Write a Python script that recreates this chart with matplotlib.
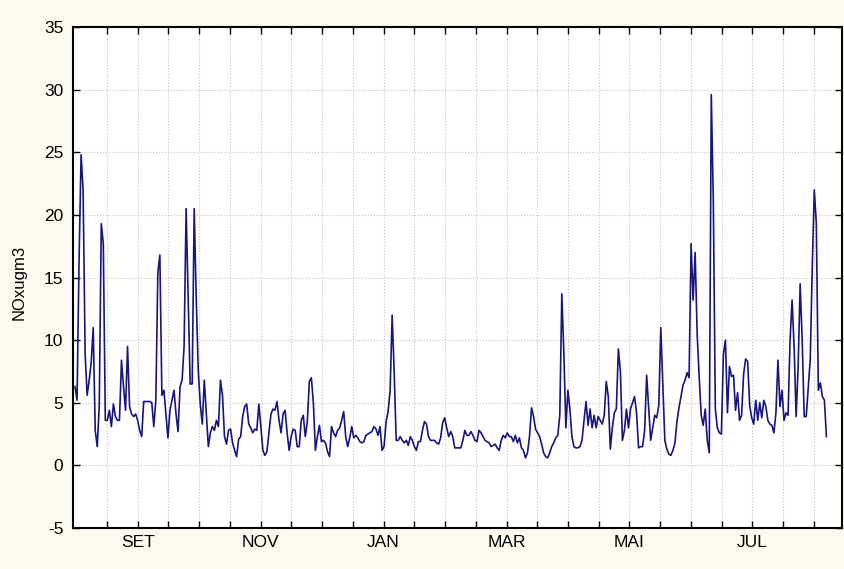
import numpy as np
import matplotlib.pyplot as plt

# daily NOx (ug/m3), day 0 = 1 August
nox_aug_nov = [
    6.3, 5.2, 16.4, 24.8, 22.0, 8.9, 5.6, 6.8, 8.2, 11.0,
    2.8, 1.5, 4.8, 19.3, 17.7, 3.6, 3.6, 4.4, 3.1, 4.9,
    3.9, 3.6, 3.6, 8.4, 6.3, 4.4, 9.5, 4.7, 4.1, 3.9,
    4.1, 3.6, 2.8, 2.3, 5.1, 5.1, 5.1, 5.1, 5.0, 3.1,
    5.2, 15.4, 16.8, 5.6, 6.0, 4.1, 2.2, 4.4, 5.2, 6.0,
    4.1, 2.7, 6.3, 6.8, 9.5, 20.5, 13.4, 6.5, 6.5, 20.5,
    13.4, 7.6, 4.9, 3.3, 6.8, 4.1, 1.5, 2.6, 3.1, 2.8,
    3.6, 3.1, 6.8, 5.6, 2.3, 1.7, 2.8, 2.9, 1.8, 1.2,
    0.7, 2.1, 2.3, 3.9, 4.7, 4.9, 3.3, 3.0, 2.6, 2.9,
    2.8, 4.9, 3.1, 1.2, 0.8, 1.1, 2.6, 4.1, 4.5, 4.4,
    5.1, 3.6, 2.6, 4.1, 4.4, 2.6, 1.2, 2.3, 2.9, 2.8,
    1.5, 1.5,
]
nox_nov_apr = [
    3.6, 4.0, 2.3, 3.5, 6.7, 7.0, 5.0, 1.2, 2.3, 3.2,
    1.9, 2.0, 1.8, 1.1, 0.7, 3.1, 2.6, 2.3, 2.8, 3.0,
    3.6, 4.3, 2.3, 1.5, 2.2, 3.1, 2.2, 2.4, 2.2, 1.9,
    1.8, 1.9, 2.4, 2.5, 2.6, 2.7, 3.1, 2.9, 2.4, 3.1,
    1.2, 1.5, 3.5, 4.3, 6.0, 12.0, 7.5, 2.0, 2.0, 2.3,
    2.0, 1.8, 2.0, 1.6, 2.3, 2.0, 1.5, 1.2, 1.9, 1.9,
    2.8, 3.5, 3.3, 2.3, 2.0, 2.0, 2.0, 1.8, 1.7, 2.2,
    3.4, 3.8, 3.0, 2.3, 2.7, 2.3, 1.4, 1.4, 1.4, 1.4,
    2.0, 2.8, 2.4, 2.4, 2.7, 2.4, 2.0, 1.9, 2.8, 2.6,
    2.3, 2.0, 1.9, 1.8, 1.5, 1.6, 1.7, 1.4, 1.2, 2.0,
    2.4, 2.2, 2.6, 2.3, 2.3, 1.9, 2.4, 1.8, 2.2, 1.4,
    1.2, 0.6, 1.0, 2.3, 4.6, 3.9, 2.9, 2.6, 2.3, 1.7,
    1.0, 0.7, 0.6, 1.0, 1.5, 1.8, 2.2, 2.4, 4.0, 13.7,
    9.0, 3.0, 6.0, 4.5, 2.3, 1.5,
]
nox_apr_aug = [
    1.4, 1.4, 1.5, 2.0, 3.6, 5.1, 3.2, 4.5, 3.0, 4.0,
    3.0, 3.9, 3.6, 3.3, 4.0, 6.7, 5.5, 1.3, 3.0, 4.2,
    4.5, 9.3, 7.5, 2.0, 2.8, 4.5, 3.0, 4.5, 5.0, 5.5,
    4.2, 1.4, 1.5, 1.5, 2.8, 7.2, 4.6, 2.0, 3.0, 4.0,
    3.8, 4.8, 11.0, 6.5, 2.0, 1.3, 0.9, 0.8, 1.2, 1.8,
    3.5, 4.6, 5.5, 6.4, 6.8, 7.4, 7.0, 17.7, 13.2, 17.0,
    10.5, 7.1, 4.0, 3.2, 4.5, 2.0, 1.0, 29.6, 21.2, 4.5,
    3.0, 2.6, 2.5, 8.9, 10.0, 4.2, 7.9, 7.1, 7.2, 4.4,
    5.8, 3.6, 4.0, 7.3, 8.5, 8.3, 4.8, 3.8, 3.3, 5.2,
    3.6, 5.0, 3.8, 5.2, 4.7, 3.6, 3.3, 3.2, 2.6, 4.2,
    8.4, 4.7, 6.0, 3.6, 4.2, 4.0, 10.0, 13.2, 9.5, 3.9,
    7.9, 14.5, 10.0, 3.9, 3.9, 6.2, 8.5, 15.9, 22.0, 19.3,
    6.0, 6.6, 5.5, 5.2, 2.3,
]

month_labels = ['SET', 'NOV', 'JAN', 'MAR', 'MAI', 'JUL']
sep_first = 31            # 1 September, in days from 1 August
half_month = 365.25 / 24

nox = np.concatenate([nox_aug_nov, nox_nov_apr, nox_apr_aug])
days = np.arange(len(nox))

plt.rcParams['font.family'] = ['Liberation Sans', 'DejaVu Sans']
plt.rcParams['axes.unicode_minus'] = False

fig = plt.figure(figsize=(8.44, 5.69), dpi=100, facecolor='#fcf9f0')
ax = fig.add_axes([0.0865, 0.072, 0.9111, 0.8805])
ax.set_facecolor('white')

ax.plot(days, nox, color='#16167c', lw=1.2)

# ticks every half month, a label every second month
ticks = sep_first + half_month * np.arange(-1, 23)
labels = [''] * len(ticks)
for i, name in enumerate(month_labels):
    labels[1 + 4 * i] = name
ax.set_xticks(ticks)
ax.set_xticklabels(labels)
ax.set_xlim(-1, 379.7)

ax.set_ylim(-5, 35)
ax.set_yticks(np.arange(-5, 36, 5))

ax.grid(True, linestyle=':', color='#c4c4c4', lw=0.8)
ax.tick_params(direction='in', top=True, right=True, length=5, width=1,
               labelsize=12.5, colors='black')
ax.tick_params(axis='y', pad=7)
ax.tick_params(axis='x', pad=5)
for sp in ax.spines.values():
    sp.set_linewidth(1.5)

ax.set_ylabel('NOxugm3', fontsize=12)
ax.yaxis.set_label_coords(-0.06, 0.49)

fig.savefig('out.png', dpi=100, facecolor=fig.get_facecolor())
